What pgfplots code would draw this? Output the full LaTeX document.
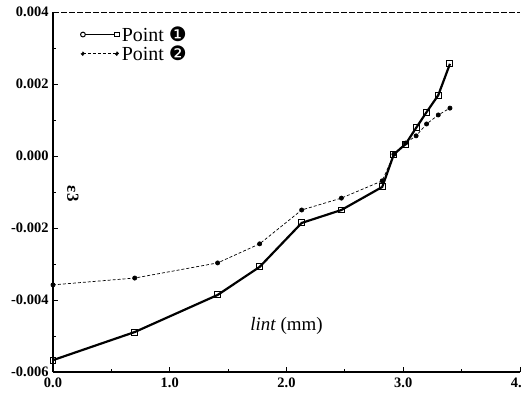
\documentclass[border=0pt]{standalone}
\usepackage{fontspec}
\setmainfont{Liberation Serif}
\newfontfamily\dejavu{DejaVu Sans}
\usepackage{pgfplots}
\pgfplotsset{compat=1.18}
\begin{document}
\begin{tikzpicture}[x=1bp,y=1bp]
\begin{axis}[
  at={(53bp,23bp)}, anchor=south west,
  width=467bp, height=360bp, scale only axis,
  xmin=0, xmax=4, ymin=-0.006, ymax=0.004,
  scaled y ticks=false, scaled x ticks=false,
  axis lines=left, axis line style={-, line width=1.3pt},
  xtick={0,1,2,3,4}, xticklabels={0.0,1.0,2.0,3.0,4.0},
  ytick={-0.006,-0.004,-0.002,0,0.002,0.004},
  yticklabels={-0.006,-0.004,-0.002,0.000,0.002,0.004},
  minor x tick num=1, minor y tick num=1,
  tick align=inside, major tick length=5bp, minor tick length=3bp,
  tick style={line width=0.8pt, black},
  ticklabel style={font=\fontsize{14.5}{15}\selectfont\bfseries},
  xticklabel style={yshift=-2bp},
  yticklabel style={xshift=-1bp},
  legend style={draw=none, fill=none, at={(axis cs:0.23,0.00366)}, anchor=north west,
    font=\fontsize{20}{17}\selectfont, inner sep=0pt, row sep=-1pt,
    cells={anchor=west}},
  legend cell align=left,
  clip=false,
]
\addplot[black, line width=2.2pt, mark=square, mark size=3pt,
  mark options={solid, fill=white, line width=1pt},
  legend image code/.code={
    \draw[black, line width=1.6pt] (0cm,0cm) -- (1.2cm,0cm);
    \draw[black, line width=1pt, fill=white] (0cm,0cm) circle (2.4pt);
    \draw[black, line width=1pt, fill=white] (1.2cm,0cm) +(-2.4pt,-2.4pt) rectangle +(2.4pt,2.4pt);
  }]
  coordinates {
  (0.00,-0.00567) (0.70,-0.00489) (1.41,-0.00386) (1.77,-0.00308)
  (2.13,-0.00186) (2.47,-0.00150) (2.82,-0.00086) (2.92,0.00005)
  (3.02,0.00033) (3.11,0.00078) (3.20,0.00122) (3.30,0.00169) (3.40,0.00256)
  };
\addlegendentry{Point {\dejavu ❶}}
\addplot[black, line width=0.7pt, densely dashed, mark=*, mark size=2.1pt,
  mark options={solid},
  legend image code/.code={
    \draw[black, line width=0.7pt, densely dashed] (0cm,0cm) -- (1.2cm,0cm);
    \fill[black] (0cm,0cm) circle (1.8pt);
    \fill[black] (1.2cm,0cm) circle (1.8pt);
  }]
  coordinates {
  (0.00,-0.00358) (0.70,-0.00339) (1.41,-0.00297) (1.77,-0.00244)
  (2.13,-0.00150) (2.47,-0.00117) (2.82,-0.00069) (2.92,0.00005)
  (3.02,0.00036) (3.11,0.00056) (3.20,0.00089) (3.30,0.00114) (3.40,0.00133)
  };
\addlegendentry{Point {\dejavu ❷}}
\draw[line width=0.9pt, dash pattern=on 6bp off 2bp] (rel axis cs:0,1) -- (rel axis cs:1,1);
\node[font=\fontsize{19}{20}\selectfont] at (axis cs:2.0,-0.00473) {\textit{lint} (mm)};
\node[rotate=-90, font=\fontsize{17}{18}\selectfont\bfseries] at (axis cs:0.17,-0.00105) {ε3};
\end{axis}
\pgfresetboundingbox
\useasboundingbox (0,0) rectangle (522bp,395bp);
\end{tikzpicture}
\end{document}
